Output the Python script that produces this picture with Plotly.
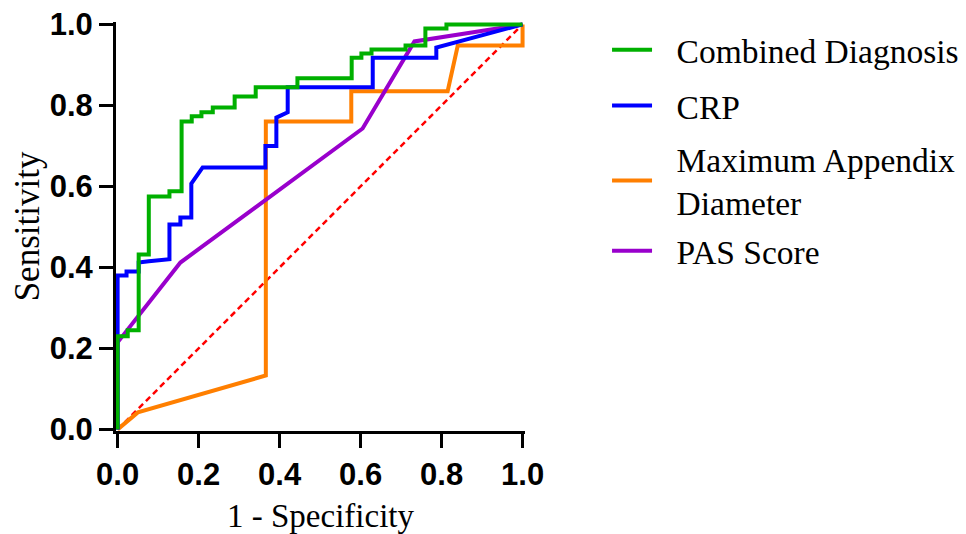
import plotly.graph_objects as go

# ROC curve vertices (1 - specificity, sensitivity)
combined_fpr = [0, 0, 0.025, 0.052, 0.077, 0.128, 0.158, 0.183, 0.207, 0.235, 0.289, 0.341,
                0.444, 0.578, 0.602, 0.627, 0.711, 0.76, 0.812, 1.0]
combined_tpr = [0, 0.23, 0.245, 0.432, 0.575, 0.588, 0.76, 0.773, 0.783, 0.795, 0.822, 0.845,
                0.867, 0.918, 0.928, 0.938, 0.948, 0.99, 1.0, 1.0]

crp_fpr = [0, 0, 0.022, 0.022, 0.052, 0.052, 0.077, 0.128, 0.128, 0.155, 0.155, 0.182, 0.182,
           0.21, 0.365, 0.365, 0.392, 0.392, 0.42, 0.42, 0.63, 0.63, 0.787, 0.787, 1.0]
crp_tpr = [0, 0.38, 0.38, 0.39, 0.39, 0.412, 0.415, 0.42, 0.506, 0.506, 0.523, 0.523, 0.607,
           0.647, 0.647, 0.70, 0.70, 0.77, 0.783, 0.845, 0.845, 0.918, 0.918, 0.943, 1.0]

diam_fpr = [0, 0.05, 0.366, 0.366, 0.577, 0.577, 0.815, 0.84, 1.0, 1.0]
diam_tpr = [0, 0.042, 0.133, 0.76, 0.76, 0.835, 0.835, 0.948, 0.948, 1.0]

pas_fpr = [0, 0, 0.155, 0.605, 0.733, 1.0]
pas_tpr = [0, 0.215, 0.412, 0.743, 0.958, 1.0]

ref_x = [0, 1]
ref_y = [0, 1]

tick_vals = [0.0, 0.2, 0.4, 0.6, 0.8, 1.0]
tick_text = ["0.0", "0.2", "0.4", "0.6", "0.8", "1.0"]

PAD = "\u2002\u200a"
names = ["Combined Diagnosis", "CRP", "Maximum Appendix<br>" + "Diameter", "PAS Score"]
colors = ["#00B000", "#0000FF", "#FF7F00", "#9900CC"]

def label(n):
    return "<br>".join(PAD + part for part in n.split("<br>"))

LW = 4
fig = go.Figure()
fig.add_trace(go.Scatter(x=ref_x, y=ref_y, mode="lines", showlegend=False,
                         line=dict(color="#FF0000", width=2.5, dash="6px,4px"), hoverinfo="skip"))
fig.add_trace(go.Scatter(x=diam_fpr, y=diam_tpr, mode="lines", name=label(names[2]), legend="legend3",
                         line=dict(color=colors[2], width=LW)))
fig.add_trace(go.Scatter(x=pas_fpr, y=pas_tpr, mode="lines", name=label(names[3]), legend="legend4",
                         line=dict(color=colors[3], width=LW)))
fig.add_trace(go.Scatter(x=crp_fpr, y=crp_tpr, mode="lines", name=label(names[1]), legend="legend2",
                         line=dict(color=colors[1], width=LW)))
fig.add_trace(go.Scatter(x=combined_fpr, y=combined_tpr, mode="lines", name=label(names[0]), legend="legend",
                         line=dict(color=colors[0], width=LW, shape="hv")))

axis_common = dict(
    tickvals=tick_vals, ticktext=tick_text,
    showline=True, linecolor="black", linewidth=3,
    ticks="outside", ticklen=14, tickwidth=3, tickcolor="black",
    showgrid=False, zeroline=False, automargin=False, ticklabeloverflow="allow",
    tickfont=dict(family="Liberation Sans", size=31, color="black", weight="bold"),
)

def legend_box(yc):
    return dict(x=0.6253, y=yc, xref="container", yref="container",
                xanchor="left", yanchor="middle",
                font=dict(family="Liberation Serif", size=33.5, color="black"),
                bgcolor="rgba(0,0,0,0)", itemwidth=40)

# the page body adds an 8px offset, so the figure is sized to fit the remaining window
fig.update_layout(
    width=958, height=526,
    margin=dict(l=108, r=441, t=14, b=103),
    paper_bgcolor="white", plot_bgcolor="white",
    xaxis=dict(range=[-0.004, 1.006], **axis_common,
               title=dict(text="1 - Specificity", standoff=14,
                          font=dict(family="Liberation Serif", size=33, color="black"))),
    yaxis=dict(range=[-0.004, 1.006], **axis_common,
               title=dict(text="Sensitivity", standoff=17,
                          font=dict(family="Liberation Serif", size=35, color="black"))),
    legend=legend_box(0.920),
    legend2=legend_box(0.814),
    legend3=legend_box(0.6711),
    legend4=legend_box(0.538),
    showlegend=True,
)

fig.write_html("out.html")
